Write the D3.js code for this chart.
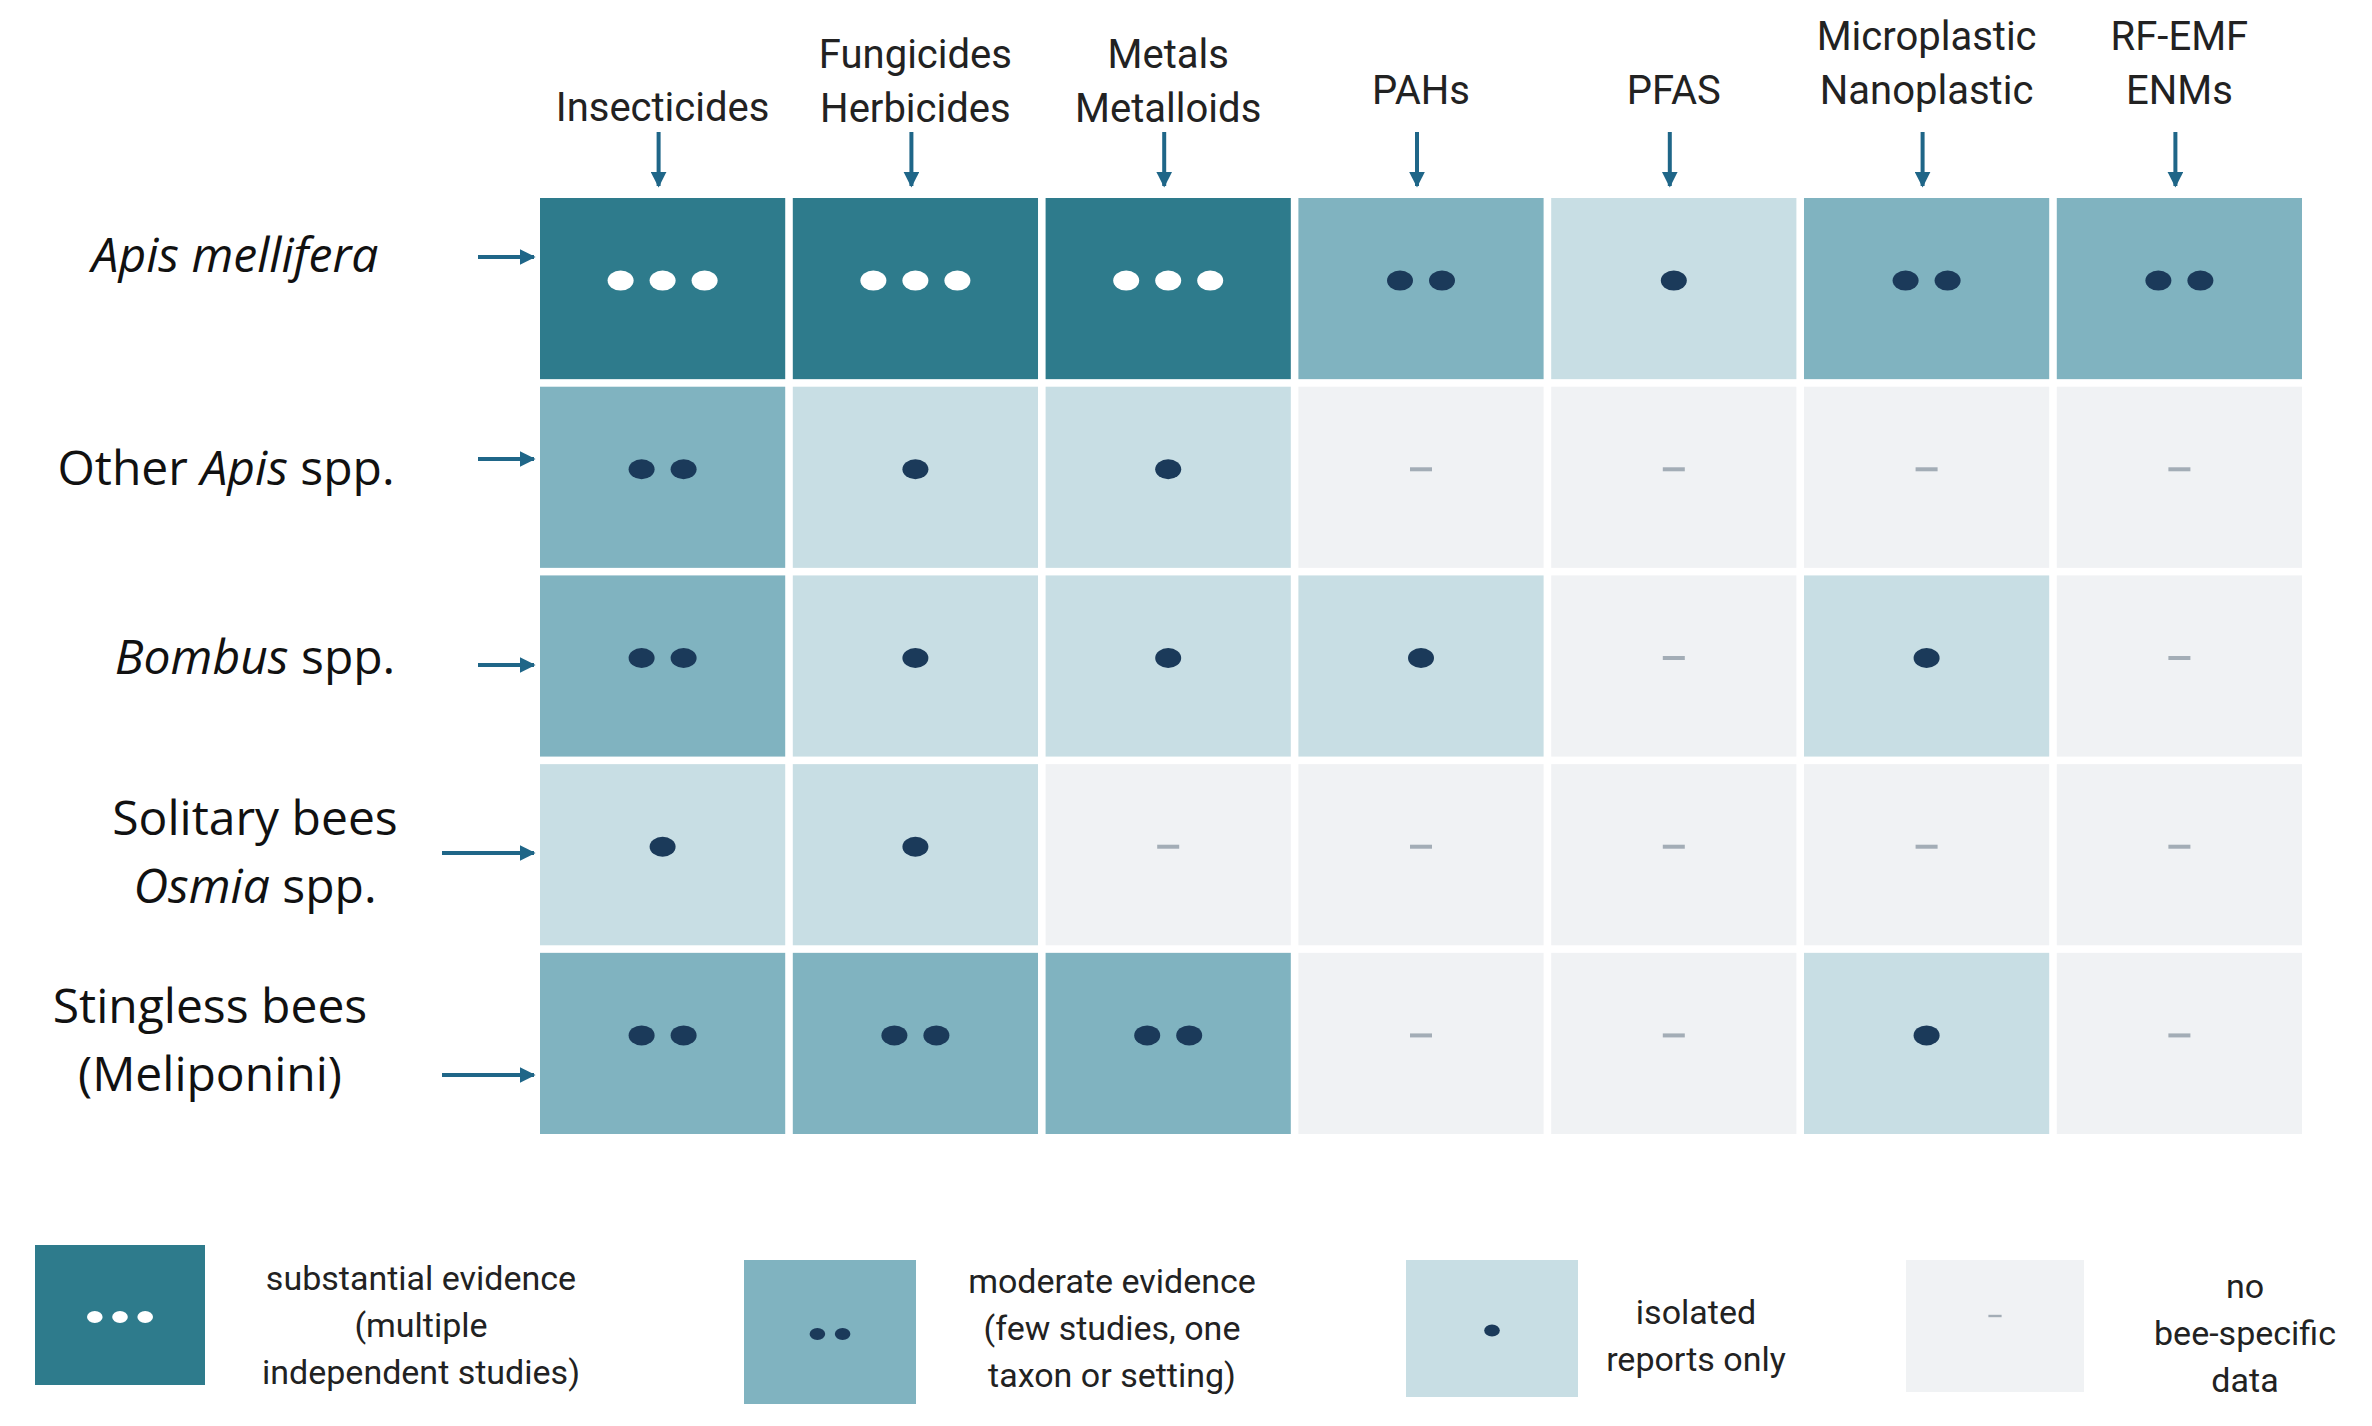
<!DOCTYPE html>
<html><head><meta charset="utf-8">
<script src="https://cdn.jsdelivr.net/npm/d3@7"></script>
<style>body{margin:0;background:#fff}</style>
</head><body><svg id="chart" width="2372" height="1426"></svg>
<script>
// columns (stressor classes), two-line headers
var stressors = ["Insecticides","Fungicides Herbicides","Metals Metalloids","PAHs","PFAS","Microplastic Nanoplastic","RF-EMF ENMs"];
var headerLines = [["Insecticides"],["Fungicides","Herbicides"],["Metals","Metalloids"],["PAHs"],["PFAS"],["Microplastic","Nanoplastic"],["RF-EMF","ENMs"]];
var taxa = ["Apis mellifera","Other Apis spp.","Bombus spp.","Solitary bees","Stingless bees"];
// evidence level: 3 substantial, 2 moderate, 1 isolated, 0 none
var apisMellifera = [3,3,3,2,1,2,2];
var otherApis     = [2,1,1,0,0,0,0];
var bombus        = [2,1,1,1,0,1,0];
var solitary      = [1,1,0,0,0,0,0];
var stingless     = [2,2,2,0,0,1,0];
var evidence = [apisMellifera, otherApis, bombus, solitary, stingless];
var legendLabels = [
  ["substantial evidence","(multiple","independent studies)"],
  ["moderate evidence","(few studies, one","taxon or setting)"],
  ["isolated","reports only"],
  ["no","bee-specific","data"]];

var fillColor = d3.scaleOrdinal().domain([3,2,1,0]).range(["#2e7b8c","#80b3c0","#c8dee4","#f0f2f4"]);
var font = "'Liberation Sans Narrow','Roboto',sans-serif";
var svg = d3.select("#chart");
var x = d3.scaleBand().domain(stressors).range([540,2302]).paddingInner(0.03);
var y = d3.scaleBand().domain(taxa).range([198,1134]).paddingInner(0.04);
var arrowCol = "#1f6688";

svg.append("defs").append("marker").attr("id","ah").attr("viewBox","0 0 10 10")
  .attr("refX",9).attr("refY",5).attr("markerWidth",4).attr("markerHeight",4).attr("orient","auto")
  .append("path").attr("d","M0,0L10,5L0,10z").attr("fill",arrowCol);

// cells
evidence.forEach(function(row, i) {
  row.forEach(function(v, j) {
    var cx = x(stressors[j]) + x.bandwidth()/2, cy = y(taxa[i]) + y.bandwidth()/2 - 8;
    svg.append("rect").attr("x",x(stressors[j])).attr("y",y(taxa[i]))
      .attr("width",x.bandwidth()).attr("height",y.bandwidth()).attr("fill",fillColor(v));
    drawMarks(svg, v, cx, cy, 1);
  });
});

function drawMarks(g, v, cx, cy, s) {
  if (v === 0) {
    g.append("rect").attr("x",cx-11*s).attr("y",cy-2*s).attr("width",22*s).attr("height",4*s).attr("fill","#a3adb6");
    return;
  }
  var sp = 42*s;
  for (var k = 0; k < v; k++) {
    g.append("ellipse").attr("cx",cx + (k-(v-1)/2)*sp).attr("cy",cy)
      .attr("rx",13*s).attr("ry",10*s).attr("fill", v === 3 ? "#ffffff" : "#1b3a5a");
  }
}

// column headers + arrows
headerLines.forEach(function(lines, j) {
  var cx = x(stressors[j]) + x.bandwidth()/2;
  var base = lines.length === 2 ? 68 : (j === 0 ? 121 : 104);
  if (j === 5 || j === 6) base = 50;
  lines.forEach(function(t, k) {
    svg.append("text").attr("x",cx).attr("y",base + k*54).attr("text-anchor","middle")
      .attr("font-family",font).attr("font-size",40).attr("fill","#222").text(t);
  });
  svg.append("line").attr("x1",cx-4).attr("x2",cx-4).attr("y1",132).attr("y2",186)
    .attr("stroke",arrowCol).attr("stroke-width",4).attr("marker-end","url(#ah)");
});

// row labels
var rowLabelSpec = [
  {lines:[[["Apis mellifera",true]]], cx:235, ay:257, ax0:478},
  {lines:[[["Other ",false],["Apis",true],[" spp.",false]]], cx:226, ay:459, ax0:478},
  {lines:[[["Bombus",true],[" spp.",false]]], cx:255, ay:665, ax0:478},
  {lines:[[["Solitary bees",false]],[["Osmia",true],[" spp.",false]]], cx:255, ay:853, ax0:442},
  {lines:[[["Stingless bees",false]],[["(Meliponini)",false]]], cx:210, ay:1075, ax0:442}];
rowLabelSpec.forEach(function(r, i) {
  var yc = y(taxa[i]) + y.bandwidth()/2;
  r.lines.forEach(function(parts, k) {
    var ty = r.lines.length === 1 ? yc + 8 : yc - 20 + k*68;
    if (i === 0) ty = 272;
    var t = svg.append("text").attr("x",r.cx).attr("y",ty).attr("text-anchor","middle")
      .attr("font-family","'Open Sans',sans-serif").attr("font-size",48).attr("fill","#111");
    parts.forEach(function(p) { t.append("tspan").attr("font-style",p[1]?"italic":"normal").text(p[0]); });
  });
  svg.append("line").attr("x1",r.ax0).attr("x2",534).attr("y1",r.ay).attr("y2",r.ay)
    .attr("stroke",arrowCol).attr("stroke-width",4).attr("marker-end","url(#ah)");
});

// legend
var legendBoxes = [{x:35,y:1245,w:170,h:140,tx:421,ty:1290},{x:744,y:1260,w:172,h:144,tx:1112,ty:1293},
  {x:1406,y:1260,w:172,h:137,tx:1696,ty:1324},{x:1906,y:1260,w:178,h:132,tx:2245,ty:1298}];
[3,2,1,0].forEach(function(v, i) {
  var b = legendBoxes[i];
  svg.append("rect").attr("x",b.x).attr("y",b.y).attr("width",b.w).attr("height",b.h).attr("fill",fillColor(v));
  drawMarks(svg, v, b.x + b.w/2, b.y + b.h/2 + (i===3?-10:2), 0.6);
  legendLabels[i].forEach(function(t, k) {
    svg.append("text").attr("x",b.tx).attr("y",b.ty + k*47).attr("text-anchor","middle")
      .attr("font-family",font).attr("font-size",34).attr("fill","#222").text(t);
  });
});
</script></body></html>
